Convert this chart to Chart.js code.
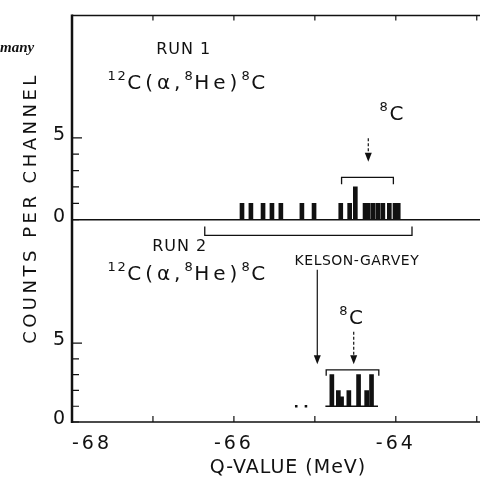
<!DOCTYPE html>
<html>
<head>
<meta charset="utf-8">
<script src="https://cdn.jsdelivr.net/npm/chart.js@4"></script>
<style>
  html, body { margin: 0; padding: 0; background: #fff; }
  canvas { display: block; }
</style>
</head>
<body>
<canvas id="myChart" width="484" height="480"></canvas>
<script>
// RUN 1 (upper panel): Q-value of each filled channel (MeV) and its counts
const run1Q = [-65.90, -65.79, -65.64, -65.53, -65.42, -65.16, -65.01,
               -64.68, -64.57, -64.50, -64.38, -64.34, -64.28, -64.22,
               -64.16, -64.08, -64.01, -63.97];
const run1Counts = [1, 1, 1, 1, 1, 1, 1,
                    1, 1, 2, 1, 1, 1, 1,
                    1, 1, 1, 1];

// RUN 2 (lower panel): spectrum is drawn on a baseline of 1 count
const run2Q = [-64.79, -64.71, -64.67, -64.58, -64.46, -64.36, -64.30];
const run2Counts = [3, 2, 1.6, 2, 3, 2, 3];
const run2Base = 1;
const run2BaseLine = [-64.87, -64.22];
const run2DotsQ = [-65.23, -65.11];

const xTicks = [-68, -67, -66, -65, -64, -63];
const xLabels = [-68, -66, -64];
const yTicks = [0, 1, 2, 3, 4, 5];
const yLabels = [0, 5];

const FONT = "'DejaVu Sans', sans-serif";
const INK = '#111';

const ctx = document.getElementById('myChart');

const frame = {
    id: 'frame',
    beforeDraw(chart) {
        chart.ctx.letterSpacing = '3px';
    },
    afterDraw(chart) {
        const c = chart.ctx;
        const a = chart.chartArea;
        const x = chart.scales.x, yT = chart.scales.yTop, yB = chart.scales.yBot;
        const X = q => x.getPixelForValue(q);
        c.save();
        c.letterSpacing = '0px';
        c.strokeStyle = INK;
        c.fillStyle = INK;

        //枠
        c.lineWidth = 1.5;
        c.beginPath();
        c.moveTo(a.left, a.top); c.lineTo(a.right, a.top);
        c.moveTo(a.left, yT.getPixelForValue(0)); c.lineTo(a.right, yT.getPixelForValue(0));
        c.moveTo(a.left, a.bottom); c.lineTo(a.right, a.bottom);
        c.stroke();
        c.lineWidth = 2.5;
        c.beginPath();
        c.moveTo(a.left, a.top - 1); c.lineTo(a.left, a.bottom + 1);
        c.stroke();

        //目盛 (内向き)
        c.lineWidth = 1.2;
        c.beginPath();
        xTicks.forEach(v => {
            if (v === -68) return;
            const px = X(v);
            c.moveTo(px, a.bottom); c.lineTo(px, a.bottom - 6);
            c.moveTo(px, a.top); c.lineTo(px, a.top + 5);
        });
        [yT, yB].forEach(s => {
            yTicks.forEach(v => {
                const py = s.getPixelForValue(v);
                c.moveTo(a.left, py); c.lineTo(a.left + (v === 5 ? 10 : 7), py);
            });
        });
        c.stroke();

        // text helpers
        const text = (s, px, py, size, sp) => {
            c.font = size + 'px ' + FONT;
            c.letterSpacing = sp + 'px';
            c.fillText(s, px, py);
            return c.measureText(s).width;
        };
        const chem = (parts, px, py) => {
            parts.forEach(([s, sup]) => {
                px += sup ? text(s, px, py - 9, 13, 1.5) : text(s, px, py, 20, 4);
            });
        };
        const arrow = (px, y1, y2, dashed) => {
            c.lineWidth = 1.2;
            c.setLineDash(dashed ? [3, 2] : []);
            c.beginPath(); c.moveTo(px, y1); c.lineTo(px, y2 - 6); c.stroke();
            c.setLineDash([]);
            c.beginPath();
            c.moveTo(px - 3.5, y2 - 9); c.lineTo(px + 3.5, y2 - 9); c.lineTo(px, y2);
            c.closePath(); c.fill();
        };
        const bracket = (x1, x2, py, pyEnd) => {
            c.lineWidth = 1.3;
            c.beginPath();
            c.moveTo(x1, pyEnd); c.lineTo(x1, py); c.lineTo(x2, py); c.lineTo(x2, pyEnd);
            c.stroke();
        };

        c.textAlign = 'left';
        c.textBaseline = 'alphabetic';

        // RUN 1
        text('RUN 1', X(-66.96), yT.getPixelForValue(10.1), 16, 1);
        chem([['12', 1], ['C(α,', 0], ['8', 1], ['He)', 0], ['8', 1], ['C', 0]],
             X(-67.56), yT.getPixelForValue(7.98));
        chem([['8', 1], ['C', 0]], X(-64.20), yT.getPixelForValue(6.06));
        arrow(X(-64.34), yT.getPixelForValue(4.98), yT.getPixelForValue(3.54), true);
        bracket(X(-64.67), X(-64.03), yT.getPixelForValue(2.58), yT.getPixelForValue(2.16));

        // RUN 2
        bracket(X(-66.36), X(-63.80), yB.getPixelForValue(11.83), yB.getPixelForValue(12.39));
        text('RUN 2', X(-67.01), yB.getPixelForValue(10.83), 16, 1);
        chem([['12', 1], ['C(α,', 0], ['8', 1], ['He)', 0], ['8', 1], ['C', 0]],
             X(-67.56), yB.getPixelForValue(9.03));
        text('KELSON-GARVEY', X(-65.25), yB.getPixelForValue(9.96), 14, 0.5);
        arrow(X(-64.97), yB.getPixelForValue(9.65), yB.getPixelForValue(3.67), false);
        chem([['8', 1], ['C', 0]], X(-64.70), yB.getPixelForValue(6.23));
        arrow(X(-64.52), yB.getPixelForValue(5.73), yB.getPixelForValue(3.67), true);
        bracket(X(-64.86), X(-64.21), yB.getPixelForValue(3.30), yB.getPixelForValue(2.93));

        // axis titles
        c.textAlign = 'center';
        text('Q-VALUE (MeV)', 288, 473, 19, 1);
        c.save();
        c.translate(36, 208);
        c.rotate(-Math.PI / 2);
        text('COUNTS PER CHANNEL', 0, 0, 18, 3.5);
        c.restore();

        // page text cut at the left edge
        c.textAlign = 'left';
        c.letterSpacing = '0px';
        c.font = "italic bold 15px 'Liberation Serif', serif";
        c.fillText('many', 0, 52);

        c.restore();
    }
};

const yScale = (weight, max) => ({
    type: 'linear',
    position: 'left',
    stack: 'panels',
    stackWeight: weight,
    min: 0,
    max: max,
    offset: false,
    grid: { display: false, drawTicks: false },
    border: { display: false },
    afterBuildTicks: s => { s.ticks = yTicks.map(v => ({ value: v })); },
    afterFit: s => { s.width = 72; },
    ticks: {
        padding: 4,
        labelOffset: -3,
        autoSkip: false,
        color: INK,
        font: { family: FONT, size: 19 },
        callback: v => yLabels.includes(v) ? String(v) : ''
    }
});

new Chart(ctx, {
    type: 'bar',
    data: {
        datasets: [
            {
                label: 'RUN 1',
                data: run1Q.map((q, i) => ({ x: q, y: run1Counts[i] })),
                yAxisID: 'yTop',
                backgroundColor: INK,
                barThickness: 4,
                grouped: false
            },
            {
                label: 'RUN 2',
                data: run2Q.map((q, i) => ({ x: q, y: run2Counts[i] })),
                yAxisID: 'yBot',
                base: run2Base,
                backgroundColor: INK,
                barThickness: 4,
                grouped: false
            },
            {
                type: 'line',
                label: 'RUN 2 baseline',
                data: run2BaseLine.map(q => ({ x: q, y: run2Base })),
                yAxisID: 'yBot',
                borderColor: INK,
                borderWidth: 1.5,
                pointRadius: 0
            },
            {
                type: 'line',
                label: 'RUN 2 single',
                data: run2DotsQ.map(q => ({ x: q, y: run2Base })),
                yAxisID: 'yBot',
                showLine: false,
                pointStyle: 'rect',
                pointRadius: 1.8,
                backgroundColor: INK,
                borderWidth: 0
            }
        ]
    },
    options: {
        responsive: false,
        animation: false,
        layout: { padding: { top: 8, left: 0, right: 0, bottom: 0 } },
        plugins: { legend: { display: false }, tooltip: { enabled: false } },
        scales: {
            x: {
                type: 'linear',
                min: -68,
                max: -62.96,
                offset: false,
                grid: { display: false, drawTicks: true, tickLength: 11 },
                border: { display: false },
                afterBuildTicks: s => { s.ticks = xTicks.map(v => ({ value: v })); },
                afterFit: s => { s.height = 58; s.paddingLeft = 0; s.paddingRight = 0; },
                ticks: {
                    align: 'inner',
                    padding: 0,
                    autoSkip: false,
                    maxRotation: 0,
                    includeBounds: false,
                    color: INK,
                    font: { family: FONT, size: 19 },
                    callback: v => xLabels.includes(v) ? String(v) : ''
                }
            },
            // stacked boxes are placed in reverse order: bottom panel first
            yBot: yScale(206, 12.83),
            yTop: yScale(208, 12.48)
        }
    },
    plugins: [frame]
});
</script>
</body>
</html>
